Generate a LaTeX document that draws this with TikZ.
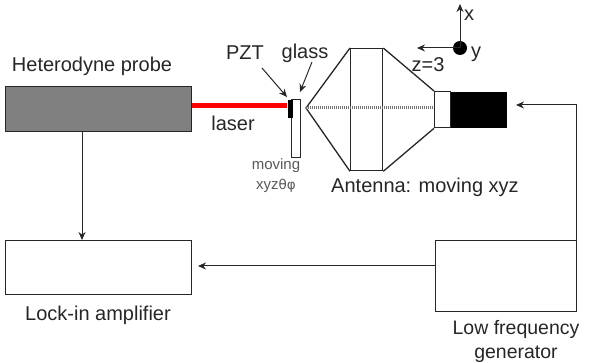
\documentclass[tikz,border=0pt]{standalone}
\usepackage{fontspec}
\setmainfont{Liberation Sans}
\usetikzlibrary{arrows.meta}
\begin{document}
\begin{tikzpicture}[x=1pt,y=-1pt,
  box/.style={draw=black!85,line width=1.3pt,minimum width=0pt,inner sep=0pt,anchor=north west},
  txt/.style={font=\fontsize{20}{23}\selectfont,text=black!85,inner sep=0pt},
  small/.style={font=\fontsize{15}{20}\selectfont,text=black!65,inner sep=0pt,align=center},
  conn/.style={draw=black!85,line width=1pt,-{Stealth[length=8pt,width=7pt]}},
  geom/.style={draw=black!85,line width=1.3pt}]
\useasboundingbox (0,0) rectangle (603,363);
% boxes
\node[box,fill=black!50,minimum width=186pt,minimum height=45pt] (probe) at (5,86) {};
\node[box,minimum width=186pt,minimum height=54pt] (lockin) at (5,240) {};
\node[box,minimum width=141pt,minimum height=71pt] (gen) at (435,240) {};
% laser, glass, PZT
\node[box,fill=white,minimum width=9pt,minimum height=58pt] (glass) at (291,99) {};
\node[box,draw=none,fill=black,minimum width=5pt,minimum height=18pt] (pzt) at (287,99) {};
\draw[red,line width=5.5pt] (probe.east |- 0,105.5) -- (pzt.west |- 0,105.5);
% antenna
\coordinate (tip) at (306,108);
\node[box,minimum width=32pt,minimum height=122pt] (lens) at (350,48) {};
\node[box,fill=white,minimum width=16pt,minimum height=36pt] (neck) at (434,91) {};
\node[box,draw=none,fill=black,minimum width=56pt,minimum height=36pt] (horn) at (450,91) {};
\draw[geom] (lens.north west) -- (tip) -- (lens.south west);
\draw[geom] (lens.north east) -- (neck.north west);
\draw[geom] (lens.south east) -- (neck.south west);
\draw[black!55,line width=3pt,dash pattern=on 1pt off 1pt] (tip) -- (neck.west |- tip);
% axes
\node[circle,fill=black,minimum size=14pt,inner sep=0pt] (origin) at (460,48) {};
\coordinate (xend) at (460,4);
\coordinate (zend) at (417,48);
\draw[conn] (origin.center) -- (xend);
\draw[conn] (origin.center) -- (zend);
% connectors
\coordinate (lockend) at (198,266);
\coordinate (hornarrow) at (516,105);
\draw[conn] (82,131) -- (82,240);
\draw[conn] (gen.west |- lockend) -- (lockend);
\draw[conn] (576,240) -- (576,105) -- (hornarrow);
\draw[conn] (262,68) -- (287,97);
\draw[conn] (312,62) -- (300,92);
% labels
\node[txt] (l1) at (92,66) {Heterodyne probe};
\node[txt] (l2) at (233,123) {laser};
\node[txt] (l3) at (245,53) {PZT};
\node[txt] (l4) at (305,53) {glass};
\node[small] (l5) at (276,176) {moving\\xyz\fontspec{DejaVu Sans}\fontsize{13.5}{20}\selectfont θφ};
\node[txt] (l6) at (425,187) {Antenna: moving xyz};
\node[txt] (l7) at (469,15) {x};
\node[txt] (l8) at (476,54) {y};
\node[txt] (l9) at (428,65) {z=3};
\node[txt] (l10) at (98,315) {Lock-in amplifier};
\node[txt,align=center,font=\fontsize{19.5}{24}\selectfont] (l11) at (516,341) {Low frequency\\generator};
\end{tikzpicture}
\end{document}
